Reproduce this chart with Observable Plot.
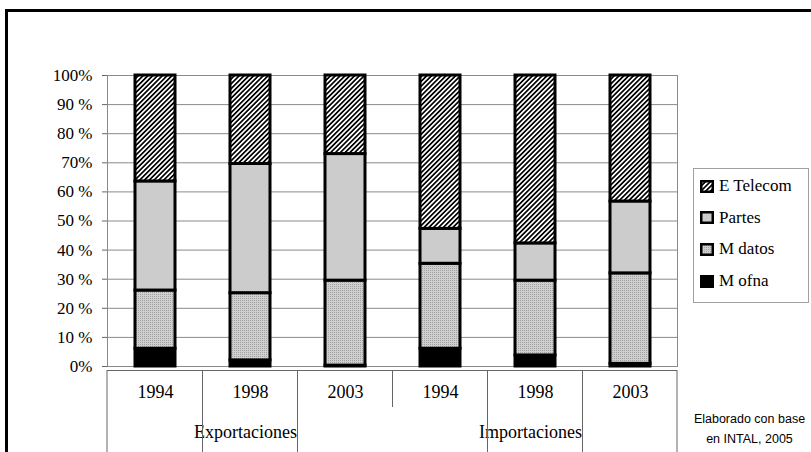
<!DOCTYPE html>
<html><head><meta charset="utf-8">
<script src="https://cdn.jsdelivr.net/npm/d3@7"></script>
<script src="https://cdn.jsdelivr.net/npm/@observablehq/plot@0.6"></script>
<style>
body{margin:0;background:#fff;}
#wrap{position:relative;width:811px;height:452px;overflow:hidden;font-family:"Liberation Serif","Times New Roman",serif;}
#frame{position:absolute;left:5px;top:9px;width:900px;height:500px;border-top:3px solid #000;border-left:3px solid #000;pointer-events:none;}
#chart{position:absolute;left:0;top:0;}
#legend{position:absolute;left:693px;top:168px;width:116px;height:135px;border:1px solid #a0a0a0;box-sizing:border-box;background:#fff;}
.item{position:absolute;left:6px;height:20px;display:flex;align-items:center;font-family:"Liberation Serif","Times New Roman",serif;font-size:17px;white-space:nowrap;}
.item svg{margin-right:5px;flex:none;}
#caption{position:absolute;left:688px;top:409px;width:123px;text-align:center;font-family:"Liberation Sans",Arial,sans-serif;font-size:12.5px;line-height:20px;}
</style></head><body>
<div id="wrap"><div id="chart"></div><div id="frame"></div><div id="legend"></div>
<div id="caption">Elaborado con base<br>en INTAL, 2005</div></div>
<script>
const groups = ["Exportaciones", "Importaciones"];
const years = ["1994", "1998", "2003"];
const series = ["M ofna", "M datos", "Partes", "E Telecom"];
// values per bar: Exp 1994, Exp 1998, Exp 2003, Imp 1994, Imp 1998, Imp 2003 (%)
const mOfna    = [6.1, 2.1, 0.3, 6.1, 3.8, 0.9];
const mDatos   = [20.0, 23.1, 29.2, 29.2, 25.7, 31.1];
const partes   = [37.5, 44.4, 43.5, 12.0, 12.8, 24.7];
const eTelecom = [36.4, 30.4, 27.0, 52.7, 57.7, 43.3];
const yTicks  = [0, 10, 20, 30, 40, 50, 60, 70, 80, 90, 100];
const yLabels = ["0%", "10 %", "20 %", "30 %", "40 %", "50 %", "60 %", "70%", "80 %", "90 %", "100%"];
const legendOrder = ["E Telecom", "Partes", "M datos", "M ofna"];

const serif = "Liberation Serif";
const fills = {"M ofna": "#000000", "M datos": "url(#dots)", "Partes": "#cccccc", "E Telecom": "url(#hatch)"};
const seriesValues = {"M ofna": mOfna, "M datos": mDatos, "Partes": partes, "E Telecom": eTelecom};

const keys = [];
groups.forEach(g => years.forEach(y => keys.push(g + "|" + y)));
const data = [];
keys.forEach((k, i) => series.forEach(s => data.push({key: k, series: s, value: seriesValues[s][i]})));

const chart = Plot.plot({
  width: 811, height: 452,
  marginLeft: 107, marginRight: 134, marginTop: 75, marginBottom: 86,
  style: {fontFamily: serif, fontSize: "17px", color: "#000", background: "transparent", overflow: "visible"},
  x: {domain: keys, paddingInner: 0.58, paddingOuter: 0.29},
  y: {domain: [0, 100]},
  color: {type: "identity"},
  marks: [
    Plot.ruleY(yTicks, {stroke: "#8a8a8a", strokeWidth: 1}),
    Plot.frame({stroke: "#8a8a8a"}),
    Plot.ruleY([0], {dy: 4, stroke: "#666", strokeWidth: 1}),
    Plot.barY(data, Plot.stackY({x: "key", y: "value", z: "series", order: series,
      fill: d => fills[d.series], stroke: "#000", strokeWidth: 3})),
    Plot.axisY({ticks: yTicks, tickFormat: d => yLabels[yTicks.indexOf(d)], tickSize: 5, tickPadding: 10,
      fontSize: 17, fontFamily: serif, fontVariant: "normal", stroke: "#666", fill: "#000", label: null}),
    Plot.axisX({tickSize: 0, tickPadding: 19, tickFormat: k => k.split("|")[1], fontSize: 18, fontFamily: serif, fill: "#000", label: null}),
    Plot.text(groups, {x: g => g + "|" + years[1], text: d => d, frameAnchor: "bottom", dy: 71, dx: -5, fontSize: 18, fontFamily: serif})
  ]
});
document.getElementById("chart").appendChild(chart);

// patterns
const svg = d3.select(chart);
const defs = svg.insert("defs", ":first-child");
const hatch = defs.append("pattern").attr("id", "hatch").attr("patternUnits", "userSpaceOnUse")
  .attr("width", 3.4).attr("height", 3.4).attr("patternTransform", "rotate(45)");
hatch.append("rect").attr("width", 3.4).attr("height", 3.4).attr("fill", "#fff");
hatch.append("line").attr("x1", 1.7).attr("y1", -1).attr("x2", 1.7).attr("y2", 5).attr("stroke", "#000").attr("stroke-width", 1.7);
const dots = defs.append("pattern").attr("id", "dots").attr("patternUnits", "userSpaceOnUse").attr("width", 2).attr("height", 2);
dots.append("rect").attr("width", 2).attr("height", 2).attr("fill", "#cfcfcf");
dots.append("rect").attr("x", 0).attr("y", 0).attr("width", 1).attr("height", 1).attr("fill", "#a2a2a2");

// category separators below the axis
const xs = chart.scale("x");
const ys = chart.scale("y");
const [r0, r1] = xs.range;
const centers = xs.domain.map(k => xs.apply(k) + xs.bandwidth / 2);
const bounds = [r0, ...d3.pairs(centers).map(([a, b]) => (a + b) / 2), r1];
const y0 = ys.apply(0);
const sepG = svg.append("g").attr("stroke", "#666").attr("stroke-width", 1);
bounds.forEach((bx, i) => {
  const isGroupMid = i === years.length;
  sepG.append("line").attr("x1", bx).attr("x2", bx).attr("y1", y0 + 4)
    .attr("y2", isGroupMid ? y0 + 41 : 452);
});

// legend
const legend = document.getElementById("legend");
legendOrder.forEach((s, i) => {
  const div = document.createElement("div");
  div.className = "item";
  div.style.top = (7 + i * 31.7) + "px";
  div.innerHTML = `<svg width="14" height="13"><rect x="1.25" y="1.25" width="11.5" height="10.5" fill="${fills[s]}" stroke="#000" stroke-width="2.5"/></svg><span>${s}</span>`;
  legend.appendChild(div);
});
</script>
</body></html>
